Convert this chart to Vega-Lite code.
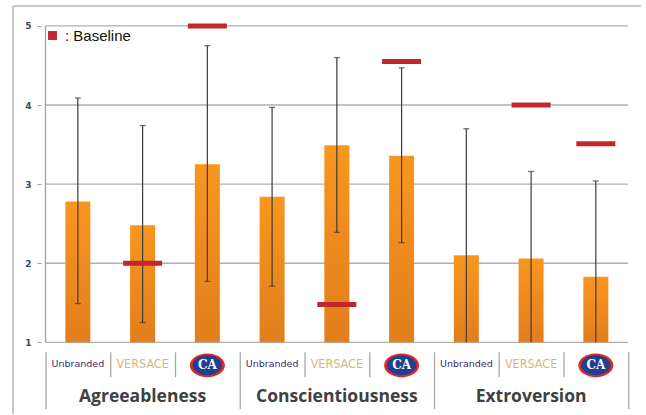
{
  "$schema": "https://vega.github.io/schema/vega-lite/v6.json",
  "width": 646,
  "height": 415,
  "autosize": {"type": "fit", "contains": "padding"},
  "padding": {"left": 8, "top": 5, "right": 0, "bottom": 0},
  "background": "white",
  "config": {"view": {"stroke": null}, "axisX": {"disable": true}},
  "datasets": {
    "bars": [
      {"idx": 0, "trait": "Agreeableness", "brand": "Unbranded", "mean": 2.78, "lo": 1.49, "hi": 4.09, "base": null},
      {"idx": 1, "trait": "Agreeableness", "brand": "VERSACE", "mean": 2.48, "lo": 1.25, "hi": 3.74, "base": 2.0},
      {"idx": 2, "trait": "Agreeableness", "brand": "CA", "mean": 3.25, "lo": 1.77, "hi": 4.75, "base": 5.0},
      {"idx": 3, "trait": "Conscientiousness", "brand": "Unbranded", "mean": 2.84, "lo": 1.71, "hi": 3.97, "base": null},
      {"idx": 4, "trait": "Conscientiousness", "brand": "VERSACE", "mean": 3.49, "lo": 2.39, "hi": 4.6, "base": 1.48},
      {"idx": 5, "trait": "Conscientiousness", "brand": "CA", "mean": 3.36, "lo": 2.26, "hi": 4.47, "base": 4.55},
      {"idx": 6, "trait": "Extroversion", "brand": "Unbranded", "mean": 2.1, "lo": 1.0, "hi": 3.7, "base": null},
      {"idx": 7, "trait": "Extroversion", "brand": "VERSACE", "mean": 2.06, "lo": 1.0, "hi": 3.16, "base": 4.0},
      {"idx": 8, "trait": "Extroversion", "brand": "CA", "mean": 1.83, "lo": 1.0, "hi": 3.04, "base": 3.51}
    ],
    "grid": [{"v": 1}, {"v": 2}, {"v": 3}, {"v": 4}, {"v": 5}],
    "seps": [
      {"after": -1, "kind": "long"},
      {"after": 0, "kind": "short"},
      {"after": 1, "kind": "short"},
      {"after": 2, "kind": "long"},
      {"after": 3, "kind": "short"},
      {"after": 4, "kind": "short"},
      {"after": 5, "kind": "long"},
      {"after": 6, "kind": "short"},
      {"after": 7, "kind": "short"},
      {"after": 8, "kind": "long"}
    ]
  },
  "layer": [
    {
      "data": {"values": [{}]},
      "mark": {"type": "rule", "color": "#b4b4b4", "strokeWidth": 1.5},
      "encoding": {
        "x": {"datum": -1.0017, "type": "quantitative", "scale": {"domain": [-1.0017, 8.6976], "zero": false, "nice": false}, "axis": null},
        "x2": {"datum": 8.6976},
        "y": {"datum": 5.2516, "type": "quantitative", "scale": {"domain": [0.0944, 5.2516], "zero": false, "nice": false}}
      }
    },
    {
      "data": {"values": [{}]},
      "mark": {"type": "rule", "color": "#b4b4b4", "strokeWidth": 1.5},
      "encoding": {
        "x": {"datum": -1.0017, "type": "quantitative", "scale": {"domain": [-1.0017, 8.6976], "zero": false, "nice": false}, "axis": null},
        "y": {"datum": 5.2516, "type": "quantitative", "scale": {"domain": [0.0944, 5.2516], "zero": false, "nice": false}},
        "y2": {"datum": 0.0944}
      }
    },
    {
      "data": {"name": "grid"},
      "mark": {"type": "rule", "color": "#b0b0b0", "strokeWidth": 1.3},
      "encoding": {
        "x": {"datum": -0.5, "type": "quantitative", "scale": {"domain": [-1.0017, 8.6976], "zero": false, "nice": false}, "axis": null},
        "x2": {"datum": 8.5},
        "y": {
          "field": "v", "type": "quantitative",
          "scale": {"domain": [0.0944, 5.2516], "zero": false, "nice": false},
          "axis": {"values": [1, 2, 3, 4, 5], "format": "d", "offset": -33, "domain": false, "grid": false, "ticks": true, "tickSize": 4, "tickColor": "#a0a0a0", "labelFont": "DejaVu Sans", "labelFontWeight": "bold", "labelFontSize": 9, "labelColor": "#3b4a5c", "labelPadding": 6, "title": null}
        }
      }
    },
    {
      "data": {"values": [{}]},
      "mark": {"type": "rule", "color": "#a0a0a0", "strokeWidth": 1.3},
      "encoding": {
        "x": {"datum": -0.5, "type": "quantitative", "scale": {"domain": [-1.0017, 8.6976], "zero": false, "nice": false}, "axis": null},
        "y": {"datum": 1, "type": "quantitative", "scale": {"domain": [0.0944, 5.2516], "zero": false, "nice": false}},
        "y2": {"datum": 5}
      }
    },
    {
      "data": {"name": "bars"},
      "mark": {"type": "bar", "width": 25, "color": {"gradient": "linear", "x1": 0, "y1": 0, "x2": 0, "y2": 1, "stops": [{"offset": 0, "color": "#f9961f"}, {"offset": 1, "color": "#e27e1c"}]}},
      "encoding": {
        "x": {"field": "idx", "type": "quantitative", "scale": {"domain": [-1.0017, 8.6976], "zero": false, "nice": false}, "axis": null},
        "y": {"field": "mean", "type": "quantitative", "scale": {"domain": [0.0944, 5.2516], "zero": false, "nice": false}},
        "y2": {"datum": 1}
      }
    },
    {
      "data": {"name": "bars"},
      "mark": {"type": "rule", "color": "#3c3c3c", "strokeWidth": 1.2},
      "encoding": {
        "x": {"field": "idx", "type": "quantitative", "scale": {"domain": [-1.0017, 8.6976], "zero": false, "nice": false}, "axis": null},
        "y": {"field": "lo", "type": "quantitative", "scale": {"domain": [0.0944, 5.2516], "zero": false, "nice": false}},
        "y2": {"field": "hi"}
      }
    },
    {
      "data": {"name": "bars"},
      "mark": {"type": "tick", "orient": "horizontal", "size": 6, "thickness": 1.3, "color": "#3c3c3c"},
      "encoding": {
        "x": {"field": "idx", "type": "quantitative", "scale": {"domain": [-1.0017, 8.6976], "zero": false, "nice": false}, "axis": null},
        "y": {"field": "hi", "type": "quantitative", "scale": {"domain": [0.0944, 5.2516], "zero": false, "nice": false}}
      }
    },
    {
      "data": {"name": "bars"},
      "transform": [{"filter": "datum.lo > 1"}],
      "mark": {"type": "tick", "orient": "horizontal", "size": 6, "thickness": 1.3, "color": "#3c3c3c"},
      "encoding": {
        "x": {"field": "idx", "type": "quantitative", "scale": {"domain": [-1.0017, 8.6976], "zero": false, "nice": false}, "axis": null},
        "y": {"field": "lo", "type": "quantitative", "scale": {"domain": [0.0944, 5.2516], "zero": false, "nice": false}}
      }
    },
    {
      "data": {"name": "bars"},
      "transform": [{"filter": "datum.base != null"}],
      "mark": {"type": "tick", "orient": "horizontal", "size": 39, "thickness": 5, "opacity": 1},
      "encoding": {
        "x": {"field": "idx", "type": "quantitative", "scale": {"domain": [-1.0017, 8.6976], "zero": false, "nice": false}, "axis": null},
        "y": {"field": "base", "type": "quantitative", "scale": {"domain": [0.0944, 5.2516], "zero": false, "nice": false}},
        "color": {
          "datum": ": Baseline",
          "type": "nominal",
          "scale": {"range": ["#c1272d"]},
          "legend": {"title": null, "orient": "none", "legendX": 37, "legendY": 22, "symbolType": "square", "symbolSize": 80, "symbolFillColor": "#c1272d", "symbolStrokeColor": "#c1272d", "symbolStrokeWidth": 0, "labelFont": "Liberation Sans", "labelFontSize": 15, "labelColor": "#111111", "labelOffset": 5}
        }
      }
    },
    {
      "data": {"name": "seps"},
      "transform": [{"filter": "datum.kind == 'long'"}],
      "mark": {"type": "rule", "color": "#a8a8a8", "strokeWidth": 1.3, "xOffset": 32.89},
      "encoding": {
        "x": {"field": "after", "type": "quantitative", "scale": {"domain": [-1.0017, 8.6976], "zero": false, "nice": false}, "axis": null},
        "y": {"datum": 0.874, "type": "quantitative", "scale": {"domain": [0.0944, 5.2516], "zero": false, "nice": false}},
        "y2": {"datum": 0.157}
      }
    },
    {
      "data": {"name": "seps"},
      "transform": [{"filter": "datum.kind == 'short'"}],
      "mark": {"type": "rule", "color": "#a8a8a8", "strokeWidth": 1.3, "xOffset": 32.89},
      "encoding": {
        "x": {"field": "after", "type": "quantitative", "scale": {"domain": [-1.0017, 8.6976], "zero": false, "nice": false}, "axis": null},
        "y": {"datum": 0.874, "type": "quantitative", "scale": {"domain": [0.0944, 5.2516], "zero": false, "nice": false}},
        "y2": {"datum": 0.56}
      }
    },
    {
      "data": {"name": "bars"},
      "transform": [{"filter": "datum.brand == 'Unbranded'"}],
      "mark": {"type": "text", "font": "DejaVu Sans", "fontSize": 9.5, "color": "#3a2a60", "align": "center", "baseline": "middle"},
      "encoding": {
        "x": {"field": "idx", "type": "quantitative", "scale": {"domain": [-1.0017, 8.6976], "zero": false, "nice": false}, "axis": null},
        "y": {"datum": 0.723, "type": "quantitative", "scale": {"domain": [0.0944, 5.2516], "zero": false, "nice": false}},
        "text": {"field": "brand"}
      }
    },
    {
      "data": {"name": "bars"},
      "transform": [{"filter": "datum.brand == 'VERSACE'"}],
      "mark": {"type": "text", "font": "'DejaVu Sans Condensed', 'Liberation Sans', sans-serif", "fontSize": 12.5, "color": "#d6b77d", "align": "center", "baseline": "middle"},
      "encoding": {
        "x": {"field": "idx", "type": "quantitative", "scale": {"domain": [-1.0017, 8.6976], "zero": false, "nice": false}, "axis": null},
        "y": {"datum": 0.723, "type": "quantitative", "scale": {"domain": [0.0944, 5.2516], "zero": false, "nice": false}},
        "text": {"field": "brand"}
      }
    },
    {
      "data": {"name": "bars"},
      "transform": [{"filter": "datum.brand == 'CA'"}],
      "mark": {"type": "point", "filled": true, "shape": "M -1 0 A 1 0.68 0 1 1 1 0 A 1 0.68 0 1 1 -1 0 Z", "size": 1225, "color": "#e0282c", "opacity": 1},
      "encoding": {
        "x": {"field": "idx", "type": "quantitative", "scale": {"domain": [-1.0017, 8.6976], "zero": false, "nice": false}, "axis": null},
        "y": {"datum": 0.71, "type": "quantitative", "scale": {"domain": [0.0944, 5.2516], "zero": false, "nice": false}}
      }
    },
    {
      "data": {"name": "bars"},
      "transform": [{"filter": "datum.brand == 'CA'"}],
      "mark": {"type": "point", "filled": true, "shape": "M -1 0 A 1 0.68 0 1 1 1 0 A 1 0.68 0 1 1 -1 0 Z", "size": 870, "color": "#1f3f8f", "opacity": 1},
      "encoding": {
        "x": {"field": "idx", "type": "quantitative", "scale": {"domain": [-1.0017, 8.6976], "zero": false, "nice": false}, "axis": null},
        "y": {"datum": 0.71, "type": "quantitative", "scale": {"domain": [0.0944, 5.2516], "zero": false, "nice": false}}
      }
    },
    {
      "data": {"name": "bars"},
      "transform": [{"filter": "datum.brand == 'CA'"}],
      "mark": {"type": "text", "font": "DejaVu Serif", "fontWeight": "bold", "fontSize": 12, "color": "white", "align": "center", "baseline": "middle"},
      "encoding": {
        "x": {"field": "idx", "type": "quantitative", "scale": {"domain": [-1.0017, 8.6976], "zero": false, "nice": false}, "axis": null},
        "y": {"datum": 0.71, "type": "quantitative", "scale": {"domain": [0.0944, 5.2516], "zero": false, "nice": false}},
        "text": {"field": "brand"}
      }
    },
    {
      "data": {"name": "bars"},
      "transform": [{"filter": "datum.brand == 'VERSACE'"}],
      "mark": {"type": "text", "font": "Open Sans", "fontWeight": "bold", "fontSize": 17.5, "color": "#404040", "align": "center", "baseline": "middle"},
      "encoding": {
        "x": {"field": "idx", "type": "quantitative", "scale": {"domain": [-1.0017, 8.6976], "zero": false, "nice": false}, "axis": null},
        "y": {"datum": 0.308, "type": "quantitative", "scale": {"domain": [0.0944, 5.2516], "zero": false, "nice": false}},
        "text": {"field": "trait"}
      }
    }
  ]
}
